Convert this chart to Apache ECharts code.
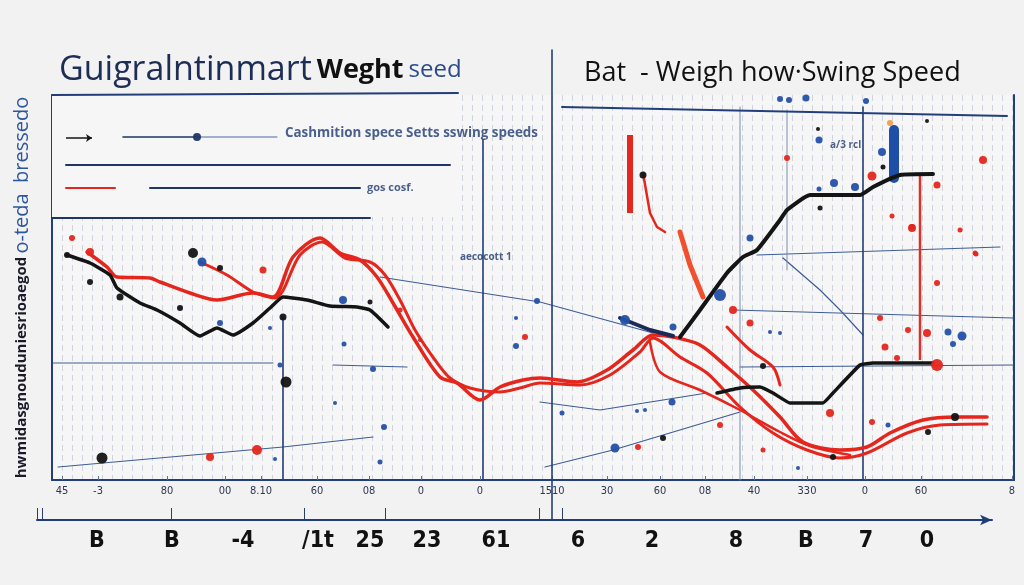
<!DOCTYPE html>
<html><head><meta charset="utf-8">
<script src="https://cdn.jsdelivr.net/npm/echarts@6/dist/echarts.min.js"></script>
<style>html,body{margin:0;padding:0;background:#f2f2f2}#c{width:1024px;height:585px}</style>
</head><body><div id="c"></div>
<script>
// ---- tick labels ----
const tickPos = [1,4.6,11.5,17.3,20.9,26.5,31.7,36.9,42.8,50,55.5,60.8,65.3,70.2,75.5,81.3,86.9,96];
const tickText = ["45","-3","80","00","8.10","60","08","0","0","1510","30","60","08","40","330","0","60","8"];
const bigPos = [6,13.5,20.6,28.1,33.3,39,45.9,54.1,61.5,69.9,76.9,82.9,89];
const bigText = ["B","B","-4","/1t","25","23","61","6","2","8","B","7","0"];
const bigTickPos = [0,0.5,13.4,26.7,34.8,50.2,52.5];

// ---- main series ----
const blackLeft = [[1.5,45],[3.8,43.4],[5.8,41],[6.5,38.4],[8.8,35.4],[10.5,34],[12.8,31.4],[14.8,28.8],[16.5,30.4],[18.1,29],[20.1,31.4],[21.8,34.4],[23.1,36.6],[25.5,36],[27.8,34.8],[30.5,34.6],[31.8,34],[33.6,30.6]];
const blackUp = [[62.8,28.6],[64.8,34],[67.5,41.4],[69.1,44.6],[70.5,46],[72.8,52],[73.5,54],[75.8,57],[80.8,57],[82.1,58.6],[84.8,61],[88.1,61.2]];
const blackLow = [[66.5,17.4],[68.8,18.4],[70.8,18.6],[72.1,17.4],[73.8,15.4],[77.1,15.4],[78.1,17.4],[80.8,23],[82.1,23.4],[88.1,23.4]];
const blackSeg = [[56.8,32.4],[59.8,30],[62.1,28.8]];
const redA = [[3.5,45.6],[5.5,42.6],[6.5,40.6],[9.8,40.4],[10.8,39.6],[13.8,37.4],[16.5,36],[20.1,37.4],[22.1,36.6],[24.1,44.6],[26.8,48.4],[28.8,45.4],[30.8,44],[32.5,40.6],[34.1,35.4],[36.1,28.6],[38.8,20.6],[40.5,19.4],[42.8,16],[44.8,18.6],[47.1,20],[48.8,20.4],[52.5,19.6],[55.5,22],[58.1,26],[60.1,29],[62.1,28.6],[64.8,27],[67.5,22.6],[70.1,18],[72.8,12.6],[75.1,7.6],[78.8,6],[81.5,6.6],[83.8,9.4],[87.1,12],[90.5,12.6],[93.5,12.6]];
const redB = [[14.8,43.6],[17.5,41],[20.1,37.6],[22.3,36.4],[24.8,45],[27,47.6],[29.3,44.4],[31.8,43.6],[33.3,41],[34.8,36],[36.3,30],[38.3,24],[39.8,20.4],[41.8,18.4],[44.8,17.6],[46.8,18.4],[48.8,19.4],[52.8,19],[55.8,21],[58.8,25.6],[60.1,28.4],[62.8,24.6],[65.5,21.4],[68.8,14.6],[72.1,9.4],[75.5,6],[78.8,4.4],[81.5,5.4],[85.5,9.4],[88.8,11],[93.5,11.2]];
const redE = [[59.8,27.6],[60.8,21.6],[64.8,18],[68.8,14],[72.8,9.6],[75.8,6.8],[79.8,5]];
const redF = [[67.5,30.6],[69.8,26],[72.1,22.6],[72.8,19]];
const redStreak1 = [[62.8,49.6],[63.8,43],[65.1,36.6]];
const redStreak2 = [[59.1,61.4],[59.8,53.4],[60.5,50.6],[61.3,49.6]];
const redVert1 = [[57.8,69],[57.8,53.4]];
const redVert2 = [[86.8,61],[86.8,24]];
const blueBar = [[84.2,70],[84.2,60.4]];

// ---- thin lines ----
const thinLines = [
  [[0.6,2.6],[23.1,6.6],[32.1,8.6]],
  [[49.3,2.6],[56.1,6],[68.8,13.6]],
  [[32.8,40.6],[48.8,35.6],[60.1,29.4]],
  [[73.1,44.4],[76.8,38],[78.8,34],[81.1,29]],
  [[68.1,34],[96.1,32.4]],
  [[70.5,45],[94.8,46.6]],
  [[48.8,15.6],[54.8,14],[65.5,17.4]],
  [[68.8,22.6],[96.1,23]],
  [[0.1,23.4],[22.1,23.4]],
  [[28.1,23],[35.5,22.6]]
];
const darkVerts = [
  [[23.1,32.6],[23.1,0]],
  [[43.1,68],[43.1,0]],
  [[50,86],[50,-8]],
  [[81.1,74.6],[81.1,0]]
];
const lightVerts = [
  [[68.8,74.6],[68.8,0]],
  [[73.5,74],[73.5,42]]
];
const frameTop = [
  [[0,77],[40.6,77.4]],
  [[51,74.6],[95.5,72.8]]
];
// ---- legend block ----
const legArrow = [[1.4,68.4],[4,68.4]];
const legNavy = [
  [[7.1,68.6],[14.3,68.6]],
  [[1.4,63],[39.8,63]],
  [[9.8,58.4],[30.8,58.4]],
  [[0,52.4],[31.8,52.4]]
];
const legThin = [[14.5,68.6],[22.5,68.6]];
const legRed = [[1.4,58.4],[6.3,58.4]];
const legDot = [[14.5,68.6,8]];
const legendBox = [[0,77],[41,52.6]];
const notes = [
  ["Cashmition spece Setts sswing speeds",23.3,69.4,13.4],
  ["gos cosf.",31.5,58.4,11],
  ["aecocott 1",40.8,44.6,10],
  ["a/3 rcl",77.8,67,10]
];

// ---- dots ----
const blueDots = [[15,43.6,9],[16.8,31.4,6],[21.8,30.4,4],[29.1,36,8],[29.2,27.2,5],[32.1,22.2,6],[28.3,15.4,4],[33.2,10.6,6],[32.8,3.6,5],[22.3,4.2,4],[48.5,35.8,6],[46.4,32.4,4],[46.4,26.8,6],[22.8,23,5],[69.8,48.4,7],[66.8,37,12],[57.3,32,10],[62.1,30.6,7],[71.8,29.6,4],[72.8,29.4,4],[62,15.6,7],[58.5,13.8,4],[59.3,14,4],[51,13.4,5],[56.3,6.4,9],[74.6,2.4,4],[83.6,11,5],[89.6,29.6,7],[90.1,27.2,6],[91,28.8,9],[72.8,76.2,6],[73.7,76,6],[75.4,76.4,7],[81.4,75.8,6],[83,65.6,8],[78.2,59.4,8],[80.3,58.6,8],[76.7,58.2,5],[76.7,68,7]];
const redDots = [[21.1,42,7],[2,48.4,6],[3.8,45.6,8],[15.8,4.6,8],[20.5,6,10],[47.3,28.6,6],[34.8,34,5],[36.8,28,4],[68.1,34,8],[69.8,31.4,7],[58.6,6.6,6],[66.8,11,6],[71.1,6,5],[77.8,13.4,8],[82,11.6,6],[82.8,32.4,6],[83.3,26.6,7],[84.5,24.4,6],[85.6,30,6],[87.5,29.4,8],[88.5,39.4,6],[86,50.6,6],[88.5,23,12],[92.3,45.4,5],[73.5,64.4,6],[82,60.8,9],[93.1,64,8],[88.5,59,7],[84,52.8,5],[86,50.4,8],[92.4,45.2,5],[90.8,50,5]];
const orangeDots = [[83.8,71.4,6]];
const blackDots = [[14.1,45.4,10],[16.8,42.4,6],[3.8,39.6,6],[6.8,36.6,7],[12.8,34.4,6],[23.1,32.6,7],[23.4,19.6,11],[5,4.4,11],[31.8,35.6,5],[71.1,22.8,6],[61.1,8.4,6],[90.3,12.6,8],[87.6,9.6,6],[78.1,4.6,6],[83.1,62.6,5],[76.6,70.2,4],[76.8,54.4,5],[87.5,71.8,4],[59.1,61,7],[1.5,45,6]];

const NAVY = '#233f7a', RED = '#e5261d', BLACK = '#141414', BLUE = '#2350a8';
const COND = 'DejaVu Sans Condensed, Liberation Sans Narrow, sans-serif';
const chart = echarts.init(document.getElementById('c'));
const series = [];
function ln(data, color, width, extra) {
  series.push(Object.assign({type:'line', data:data, xAxisIndex:0, yAxisIndex:0, symbol:'none', clip:false, silent:true,
    lineStyle:{color:color, width:width, cap:'round', join:'round'}, z:3, animation:false}, extra||{}));
}
function dots(data, color, z) {
  series.push({type:'scatter', data:data, xAxisIndex:0, yAxisIndex:0, symbolSize:d=>d[2], itemStyle:{color:color, opacity:0.95}, z:z||6, animation:false, silent:true, clip:false});
}
// legend cover
series.push({type:'line', data:[], xAxisIndex:0, yAxisIndex:0, z:1, animation:false,
  markArea:{silent:true, itemStyle:{color:'#f6f6f6'}, data:[[{coord:legendBox[0]},{coord:legendBox[1]}]]}});
thinLines.forEach(d=>ln(d, '#3d5c96', 1.2, {z:2}));
lightVerts.forEach(d=>ln(d, '#7d8db0', 1, {z:2}));
darkVerts.forEach(d=>ln(d, NAVY, 1.6, {z:2}));
frameTop.forEach(d=>ln(d, NAVY, 2, {z:2}));
legNavy.forEach((d,i)=>ln(d, '#1f3565', i===0?1.6:2, {z:2}));
ln(legThin, '#4b6aa3', 1, {z:2});
ln(legRed, RED, 2, {z:2});
series.push({type:'line', data:[legArrow[0], {value:legArrow[1], symbol:'arrow', symbolSize:6, symbolRotate:-90}], xAxisIndex:0, yAxisIndex:0, symbol:'none', showSymbol:true, lineStyle:{color:BLACK,width:1.4}, itemStyle:{color:BLACK}, z:2, animation:false, silent:true});
dots(legDot, '#1f3565', 4);
ln(redVert1, RED, 6, {lineStyle:{color:RED,width:6,cap:'butt'}});
ln(redVert2, '#d8332a', 2.5, {lineStyle:{color:'#d8332a',width:2.5,cap:'butt'}});
ln(blueBar, '#1f4ea8', 10);
ln(redStreak1, '#f0502d', 5);
ln(redStreak2, RED, 2.5);
ln(redB, RED, 3, {smooth:0.3});
ln(redE, RED, 2.5, {smooth:0.3});
ln(redF, RED, 3, {smooth:0.3});
ln(redA, RED, 3.5, {smooth:0.3});
ln(blackLeft, BLACK, 3.5, {z:4, smooth:0.15});
ln(blackUp, BLACK, 4, {z:4, smooth:0.15});
ln(blackLow, BLACK, 3.5, {z:4, smooth:0.1});
ln(blackSeg, '#1b2a56', 4, {z:4});
dots(blueDots, BLUE);
dots(redDots, RED);
dots(orangeDots, '#f0a040');
dots(blackDots, BLACK);
// notes
series.push({type:'scatter', data:notes.map(n=>({name:n[0], value:[n[1],n[2]], label:{fontSize:n[3]}})), xAxisIndex:0, yAxisIndex:0, symbolSize:0, z:7, animation:false, silent:true, clip:false,
  label:{show:true, position:'right', distance:0, formatter:p=>p.name, color:'#1f3a72', fontFamily:'Open Sans', fontWeight:'bold', fontSize:12}});
// big axis dummy
series.push({type:'scatter', data:[], xAxisIndex:2, yAxisIndex:2});

function lab(pos, text){ return v => { const i = pos.findIndex(p=>Math.abs(p-v)<1e-6); return i>=0?text[i]:''; }; }

chart.setOption({
  backgroundColor:'#f2f2f2',
  animation:false,
  title:[
    {text:'{a|Guigralntinmart} {b|Weght} {c|seed}', left:54, top:48,
     textStyle:{fontWeight:'normal', rich:{a:{fontFamily:'Open Sans',fontSize:34,fontWeight:'normal',color:'#1e2d55'},b:{fontFamily:'Open Sans',fontSize:27,fontWeight:'bold',color:'#111'},c:{fontFamily:'Open Sans',fontSize:24,fontWeight:'normal',color:'#2b4a8a'}}}},
    {text:'Bat  - Weigh how·Swing Speed', left:579, top:55,
     textStyle:{fontFamily:'Open Sans',fontSize:27,fontWeight:'normal',color:'#111'}}
  ],
  grid:[
    {left:52, right:10, top:95, bottom:105, show:true, backgroundColor:'#f6f6f6', borderWidth:0},
    {left:37, right:32, top:500, height:20, show:false}
  ],
  xAxis:[
    {type:'value', gridIndex:0, min:0, max:96.2, position:'bottom',
     axisLine:{show:true, onZero:false, lineStyle:{color:NAVY, width:2}},
     axisTick:{show:true, inside:true, length:4, customValues:tickPos, lineStyle:{color:'#5b6f99'}},
     splitLine:{show:false},
     axisLabel:{show:true, customValues:tickPos, formatter:lab(tickPos,tickText), margin:6, color:'#2e3650', fontSize:11, fontFamily:COND}},
    {type:'value', gridIndex:0, min:0, max:96.2, interval:1, position:'bottom',
     axisLine:{show:false}, axisTick:{show:false}, axisLabel:{show:false},
     splitLine:{show:true, lineStyle:{color:'#c6ccd8', width:0.8, type:[6,4]}}},
    {type:'value', gridIndex:1, min:0, max:95.5, position:'bottom',
     axisLine:{show:true, onZero:false, symbol:['none','arrow'], symbolSize:[8,12], lineStyle:{color:'#1f3d7a', width:2}},
     axisTick:{show:true, inside:true, length:12, customValues:bigTickPos, lineStyle:{color:'#2a3d66', width:1}},
     splitLine:{show:false},
     axisLabel:{show:true, customValues:bigPos, formatter:lab(bigPos,bigText), margin:10, color:'#111', fontSize:23, fontWeight:'bold', fontFamily:COND}}
  ],
  yAxis:[
    {type:'value', gridIndex:0, min:0, max:77, position:'left',
     axisLine:{show:true, onZero:false, lineStyle:{color:NAVY, width:2}}, axisTick:{show:false}, axisLabel:{show:false}, splitLine:{show:false},
     name:'{a|hwmidasgnouduniesrioaegod} {b|o-teda  bressedo}', nameLocation:'middle', nameRotate:90, nameGap:20,
     nameTextStyle:{rich:{a:{fontFamily:'Open Sans',fontWeight:'bold',fontSize:15,color:'#1a1a2a'},b:{fontFamily:'Open Sans',fontSize:20,color:'#2d56a0'}}}},
    {type:'value', gridIndex:0, min:0, max:77, position:'right',
     axisLine:{show:true, onZero:false, lineStyle:{color:NAVY, width:2}}, axisTick:{show:false}, axisLabel:{show:false}, splitLine:{show:false}},
    {type:'value', gridIndex:1, min:0, max:1, show:false}
  ],
  series:series
});
</script></body></html>
